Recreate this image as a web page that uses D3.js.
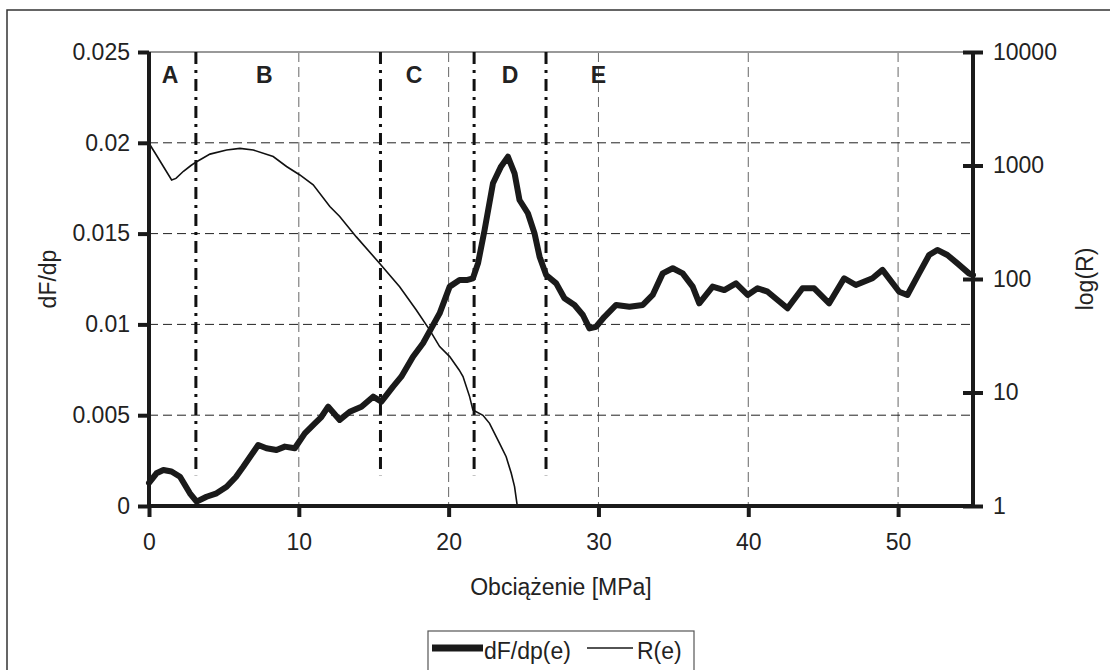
<!DOCTYPE html>
<html>
<head>
<meta charset="utf-8">
<script src="https://cdn.jsdelivr.net/npm/d3@7"></script>
<style>
  body { margin: 0; background: #fff; }
  svg { display: block; font-family: "Liberation Sans", Arial, sans-serif; }
</style>
</head>
<body>
<script>
//values
var loadE = [0, 0.5, 0.96, 1.5, 2.07, 2.73, 3.18, 3.84, 4.51, 5.18, 5.8, 6.29, 7.29, 7.84, 8.51, 9.07, 9.73, 10.4, 11.07, 11.5, 11.96, 12.73, 13.4, 14.18, 14.96, 15.51, 16.29, 16.84, 17.62, 18.29, 18.84, 19.4, 20.07, 20.73, 21.2, 21.62, 21.96, 22.4, 22.96, 23.5, 23.96, 24.4, 24.73, 25.29, 25.73, 26.07, 26.51, 27.18, 27.73, 28.4, 28.96, 29.4, 29.84, 30.4, 31.18, 32.07, 32.96, 33.62, 34.29, 34.96, 35.62, 36.29, 36.73, 37.62, 38.4, 39.18, 39.96, 40.62, 41.29, 42.62, 43.62, 44.4, 45.4, 46.4, 47.18, 48.29, 48.96, 50.07, 50.62, 51.4, 52.07, 52.62, 53.29, 53.96, 54.73, 55];
var dfdp = [0.00127, 0.0018, 0.00198, 0.0019, 0.00161, 0.0007, 0.00024, 0.00051, 0.0007, 0.00106, 0.0016, 0.00216, 0.00336, 0.00318, 0.00308, 0.00327, 0.00318, 0.004, 0.00455, 0.0049, 0.00547, 0.00474, 0.00519, 0.00547, 0.00602, 0.00575, 0.00657, 0.00712, 0.00822, 0.00896, 0.00978, 0.01061, 0.01208, 0.01244, 0.01244, 0.01254, 0.01336, 0.0152, 0.01777, 0.0187, 0.01923, 0.01832, 0.01685, 0.01612, 0.01502, 0.01373, 0.01272, 0.01226, 0.01144, 0.01107, 0.01052, 0.00978, 0.00987, 0.01042, 0.01107, 0.01097, 0.01107, 0.01162, 0.01281, 0.01309, 0.01281, 0.01208, 0.01116, 0.01208, 0.01189, 0.01226, 0.01162, 0.01199, 0.0118, 0.01089, 0.01199, 0.01199, 0.01116, 0.01254, 0.01217, 0.01254, 0.013, 0.0118, 0.01162, 0.01281, 0.01382, 0.0141, 0.01382, 0.01336, 0.01281, 0.01272];

var resE = [0, 0.5, 1.0, 1.51, 1.8, 2.3, 2.8, 3.18, 4.07, 5.18, 6.07, 6.96, 8.29, 9.18, 10.07, 10.96, 12.07, 12.73, 13.84, 15.4, 16.73, 17.84, 18.73, 19.4, 20.07, 20.7, 20.96, 21.4, 21.62, 22.29, 22.73, 23.4, 23.84, 24.18, 24.4, 24.56, 24.6];
var resR = [1570, 1230, 960, 745, 770, 890, 1000, 1080, 1260, 1370, 1415, 1370, 1200, 980, 825, 675, 435, 355, 235, 137, 85.5, 53.3, 35.6, 25.4, 20.7, 15.8, 13.8, 9.2, 7.0, 6.3, 5.35, 3.56, 2.72, 1.94, 1.48, 1.05, 1.0];

var leftTicks = [0, 0.005, 0.01, 0.015, 0.02, 0.025];
var rightTicks = [1, 10, 100, 1000, 10000];
var xTicks = [0, 10, 20, 30, 40, 50];

var phaseBounds = [3.13, 15.45, 21.7, 26.5];
var phaseNames = ["A", "B", "C", "D", "E"];
var phaseLabelE = [1.4, 7.7, 17.7, 24.1, 30.0];

var seriesNames = ["dF/dp(e)", "R(e)"];

var width = 1110, height = 670;
var margin = {top: 52, right: 137, bottom: 164, left: 149};

var svg = d3.select("body").append("svg")
    .attr("width", width)
    .attr("height", height);

//outer frame
svg.append("rect")
    .attr("x", 7).attr("y", 10)
    .attr("width", 1120).attr("height", 700)
    .attr("fill", "none")
    .attr("stroke", "#333")
    .attr("stroke-width", 1.5);

var x = d3.scaleLinear().domain([0, 55]).range([margin.left, width - margin.right]);
var yL = d3.scaleLinear().domain([0, 0.025]).range([height - margin.bottom, margin.top]);
var yR = d3.scaleLog().domain([1, 10000]).range([height - margin.bottom, margin.top]);

var x0 = x.range()[0], x1 = x.range()[1], yb = yL.range()[0], yt = yL.range()[1];

//grid
svg.append("g").selectAll("line")
    .data(xTicks.slice(1))
    .enter().append("line")
    .attr("x1", function(d){ return x(d); })
    .attr("x2", function(d){ return x(d); })
    .attr("y1", yt).attr("y2", yb)
    .attr("stroke", "#666")
    .attr("stroke-width", 1)
    .attr("stroke-dasharray", "10,5");

svg.append("g").selectAll("line")
    .data(leftTicks.slice(1, -1))
    .enter().append("line")
    .attr("x1", x0).attr("x2", x1)
    .attr("y1", function(d){ return yL(d); })
    .attr("y2", function(d){ return yL(d); })
    .attr("stroke", "#222")
    .attr("stroke-width", 1)
    .attr("stroke-dasharray", "9,5");

//top border of the plot area
svg.append("line")
    .attr("x1", x0).attr("x2", x1)
    .attr("y1", yt).attr("y2", yt)
    .attr("stroke", "#999")
    .attr("stroke-width", 2);

//phase boundaries
svg.append("g").selectAll("line")
    .data(phaseBounds)
    .enter().append("line")
    .attr("x1", function(d){ return x(d); })
    .attr("x2", function(d){ return x(d); })
    .attr("y1", yt)
    .attr("y2", yL(0.0017))
    .attr("stroke", "#111")
    .attr("stroke-width", 3)
    .attr("stroke-dasharray", "12,6,3,6");

svg.append("g").selectAll("text")
    .data(phaseNames)
    .enter().append("text")
    .attr("x", function(d, i){ return x(phaseLabelE[i]); })
    .attr("y", yt + 31)
    .attr("text-anchor", "middle")
    .attr("font-size", 23)
    .attr("font-weight", "bold")
    .attr("fill", "#222")
    .text(function(d){ return d; });

//curves
var lineL = d3.line()
    .x(function(d){ return x(d[0]); })
    .y(function(d){ return yL(d[1]); });

var lineR = d3.line()
    .x(function(d){ return x(d[0]); })
    .y(function(d){ return yR(d[1]); });

svg.append("path")
    .datum(d3.zip(resE, resR))
    .attr("d", lineR)
    .attr("fill", "none")
    .attr("stroke", "#111")
    .attr("stroke-width", 1.6);

svg.append("path")
    .datum(d3.zip(loadE, dfdp))
    .attr("d", lineL)
    .attr("fill", "none")
    .attr("stroke", "#1a1a1a")
    .attr("stroke-width", 6)
    .attr("stroke-linejoin", "round")
    .attr("stroke-linecap", "round");

//axes
function styleAxis(g){
    g.select(".domain").remove();
    g.selectAll(".tick line").attr("stroke", "#1a1a1a").attr("stroke-width", 4);
    g.selectAll(".tick text")
        .attr("font-size", 23)
        .attr("fill", "#222")
        .attr("font-family", "Liberation Sans, Arial, sans-serif");
}

var gx = svg.append("g")
    .attr("transform", "translate(0," + yb + ")")
    .call(d3.axisBottom(x).tickValues(xTicks).tickSize(11).tickPadding(17).tickFormat(d3.format("d")));
styleAxis(gx);

var gl = svg.append("g")
    .attr("transform", "translate(" + x0 + ",0)")
    .call(d3.axisLeft(yL).tickValues(leftTicks).tickSize(11).tickPadding(8).tickFormat(function(d){ return String(+d.toFixed(3)); }));
styleAxis(gl);

var gr = svg.append("g")
    .attr("transform", "translate(" + x1 + ",0)")
    .call(d3.axisRight(yR).tickValues(rightTicks).tickSize(10).tickPadding(10).tickFormat(d3.format("d")));
styleAxis(gr);
gr.selectAll(".tick line").attr("x1", -10);

//axis lines
svg.append("line")
    .attr("x1", x0 - 2).attr("x2", x1 + 2)
    .attr("y1", yb).attr("y2", yb)
    .attr("stroke", "#1a1a1a").attr("stroke-width", 4);
svg.append("line")
    .attr("x1", x0).attr("x2", x0)
    .attr("y1", yt).attr("y2", yb)
    .attr("stroke", "#1a1a1a").attr("stroke-width", 4);
svg.append("line")
    .attr("x1", x1).attr("x2", x1)
    .attr("y1", yt).attr("y2", yb)
    .attr("stroke", "#1a1a1a").attr("stroke-width", 4);

//axis titles
svg.append("text")
    .attr("x", (x0 + x1) / 2)
    .attr("y", 595)
    .attr("text-anchor", "middle")
    .attr("font-size", 23)
    .attr("fill", "#222")
    .text("Obciążenie [MPa]");

svg.append("text")
    .attr("transform", "translate(56," + (yt + yb) / 2 + ") rotate(-90)")
    .attr("text-anchor", "middle")
    .attr("font-size", 23)
    .attr("fill", "#222")
    .text("dF/dp");

svg.append("text")
    .attr("transform", "translate(1093," + (yt + yb) / 2 + ") rotate(-90)")
    .attr("text-anchor", "middle")
    .attr("font-size", 23)
    .attr("fill", "#222")
    .text("log(R)");

//legend
var legend = svg.append("g").attr("transform", "translate(428,631)");
legend.append("rect")
    .attr("width", 266).attr("height", 60)
    .attr("fill", "#fff")
    .attr("stroke", "#555")
    .attr("stroke-width", 1.2);
legend.append("line")
    .attr("x1", 4).attr("x2", 55).attr("y1", 17).attr("y2", 17)
    .attr("stroke", "#1a1a1a").attr("stroke-width", 7);
legend.append("text")
    .attr("x", 56).attr("y", 28)
    .attr("font-size", 23).attr("fill", "#222")
    .text(seriesNames[0]);
legend.append("line")
    .attr("x1", 159).attr("x2", 205).attr("y1", 17).attr("y2", 17)
    .attr("stroke", "#1a1a1a").attr("stroke-width", 1.6);
legend.append("text")
    .attr("x", 209).attr("y", 28)
    .attr("font-size", 23).attr("fill", "#222")
    .text(seriesNames[1]);
</script>
</body>
</html>
